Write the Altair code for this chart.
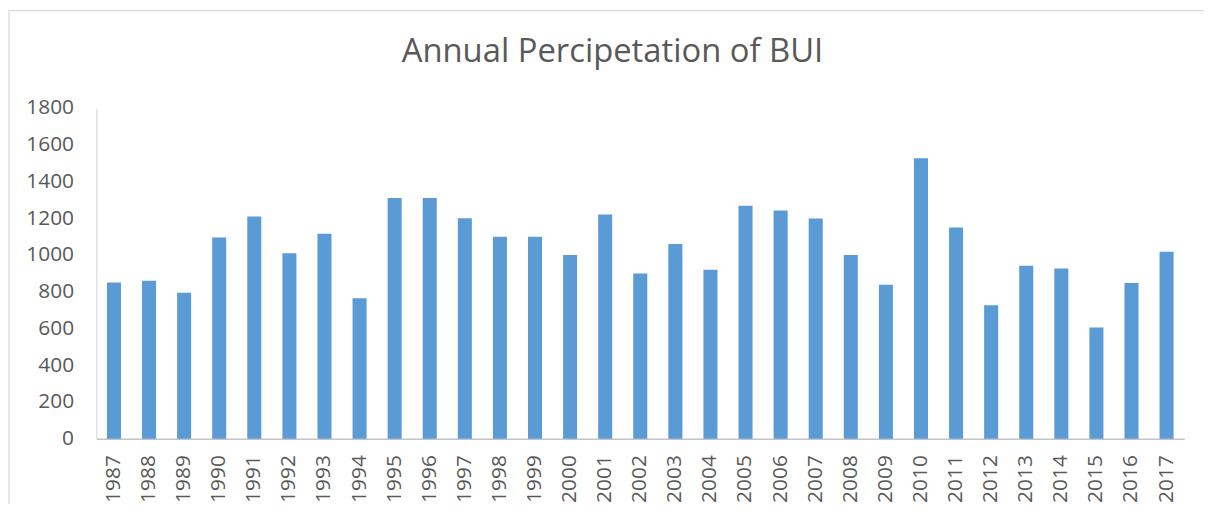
import altair as alt
import pandas as pd

years = [str(y) for y in range(1987, 2018)]
precip = [850, 860, 795, 1095, 1210, 1010, 1115, 765, 1310, 1310,
          1200, 1100, 1100, 1000, 1220, 900, 1060, 920, 1268, 1242,
          1198, 1000, 838, 1527, 1150, 727, 942, 926, 606, 848, 1018]
y_ticks = list(range(0, 1801, 200))

df = pd.DataFrame({"year": years, "precip": precip})

W, H = 1095, 333
PL, PT, PR, PB = 89, 99, 20, 64

bars = alt.Chart(df).mark_bar(color="#5B9BD5").encode(
    x=alt.X("year:N", sort=years, title=None,
            scale=alt.Scale(paddingInner=0.6, paddingOuter=0.3),
            axis=alt.Axis(labelAngle=-90, labelFontSize=21, labelColor="#595959",
                          labelFont="Open Sans", labelPadding=16, ticks=False,
                          domainColor="#c4c4c4", domainWidth=1.5, grid=False)),
    y=alt.Y("precip:Q", title=None,
            scale=alt.Scale(domain=[0, 1800], nice=False),
            axis=alt.Axis(values=y_ticks, format="d", labelFontSize=21,
                          labelColor="#595959", labelFont="Open Sans",
                          labelPadding=23, ticks=False,
                          domainColor="#d9d9d9", domainWidth=1.2, grid=False)),
)

border = alt.Chart(pd.DataFrame({"k": [0]})).mark_rect(
    fill="white", fillOpacity=0, stroke="#d9d9d9", strokeWidth=1.2
).encode(
    x=alt.value(-88), x2=alt.value(W + PR + 20),
    y=alt.value(-98), y2=alt.value(H + PB + 20),
)

chart = alt.layer(border, bars).properties(
    width=W, height=H,
    title=alt.TitleParams("Annual Percipetation of BUI", font="Open Sans",
                          fontSize=33, fontWeight="normal", color="#595959",
                          anchor="middle", baseline="alphabetic",
                          dx=-28, dy=85, offset=0),
    autosize=alt.AutoSizeParams(type="none"),
    padding={"left": PL, "top": PT, "right": PR, "bottom": PB},
).configure_view(stroke=None)

chart.save("out.html", embed_options={"renderer": "svg", "actions": False})
